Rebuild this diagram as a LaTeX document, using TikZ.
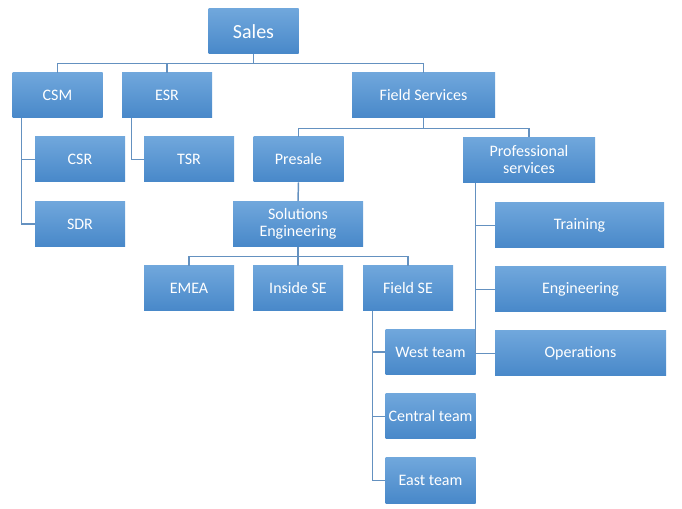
\documentclass[tikz,border=0pt]{standalone}
\usepackage{fontspec}
\setmainfont{Carlito}
\usepackage{tikz}
\usetikzlibrary{positioning}
\definecolor{boxtop}{RGB}{112,167,220}
\definecolor{boxbot}{RGB}{72,136,201}
\definecolor{linkcol}{RGB}{100,145,192}

\begin{document}
\begin{tikzpicture}[x=0.75pt, y=-0.75pt,
  unit/.style={top color=boxtop, bottom color=boxbot, text=white,
    minimum width=67.5pt, minimum height=33.75pt, inner sep=0pt,
    align=center, font=\fontsize{12}{12.75}\selectfont},
  link/.style={linkcol, line width=1.1pt}]
\useasboundingbox (0,0) rectangle (682,509);
% top levels
\node[unit, font=\fontsize{15}{16}\selectfont] (sales) at (253.5,31.5) {Sales};
\node[unit] (csm) at (57.5,95.5) {CSM};
\node[unit] (esr) at (167,95.5) {ESR};
\node[unit, minimum width=107.25pt] (fs) at (423.5,95.5) {Field Services};
\node[unit] (csr) at (80,159.5) {CSR};
\node[unit] (sdr) at (80,224) {SDR};
\node[unit] (tsr) at (189,159.5) {TSR};
\node[unit] (presale) at (298.5,159.5) {Presale};
\node[unit, minimum width=99pt] (prof) at (529,160) {Professional\\services};
\node[unit, minimum width=97.5pt] (sol) at (298,224) {Solutions\\Engineering};
\node[unit] (emea) at (189,288.5) {EMEA};
\node[unit] (inse) at (298,288.5) {Inside SE};
\node[unit] (fse) at (408,288.5) {Field SE};
\node[unit] (west) at (430.5,352) {West team};
\node[unit] (central) at (430.5,416.5) {Central team};
\node[unit] (east) at (430.5,480.5) {East team};
\node[unit, minimum width=126.75pt] (train) at (579.5,225.5) {Training};
\node[unit, minimum width=128.25pt] (eng) at (580.5,289.5) {Engineering};
\node[unit, minimum width=128.25pt] (ops) at (580.5,353.5) {Operations};
% connectors
\draw[link] (sales.south) -- ++(0,9) -| (csm.north);
\draw[link] (sales.south) -- ++(0,9) -| (esr.north);
\draw[link] (sales.south) -- ++(0,9) -| (fs.north);
\draw[link] (csm.south west) ++(9,0) |- (csr.west);
\draw[link] (csm.south west) ++(9,0) |- (sdr.west);
\draw[link] (esr.south west) ++(10,0) |- (tsr.west);
\draw[link] (fs.south) -- ++(0,10) -| (presale.north);
\draw[link] (fs.south) -- ++(0,10) -| (prof.north);
\draw[link] (presale.south) -- (sol.north);
\draw[link] (sol.south) -- ++(0,10) -| (emea.north);
\draw[link] (sol.south) -- ++(0,10) -| (inse.north);
\draw[link] (sol.south) -- ++(0,10) -| (fse.north);
\draw[link] (fse.south west) ++(10,0) |- (west.west);
\draw[link] (fse.south west) ++(10,0) |- (central.west);
\draw[link] (fse.south west) ++(10,0) |- (east.west);
\draw[link] (prof.south west) ++(13,0) |- (train.west);
\draw[link] (prof.south west) ++(13,0) |- (eng.west);
\draw[link] (prof.south west) ++(13,0) |- (ops.west);
\end{tikzpicture}
\end{document}
